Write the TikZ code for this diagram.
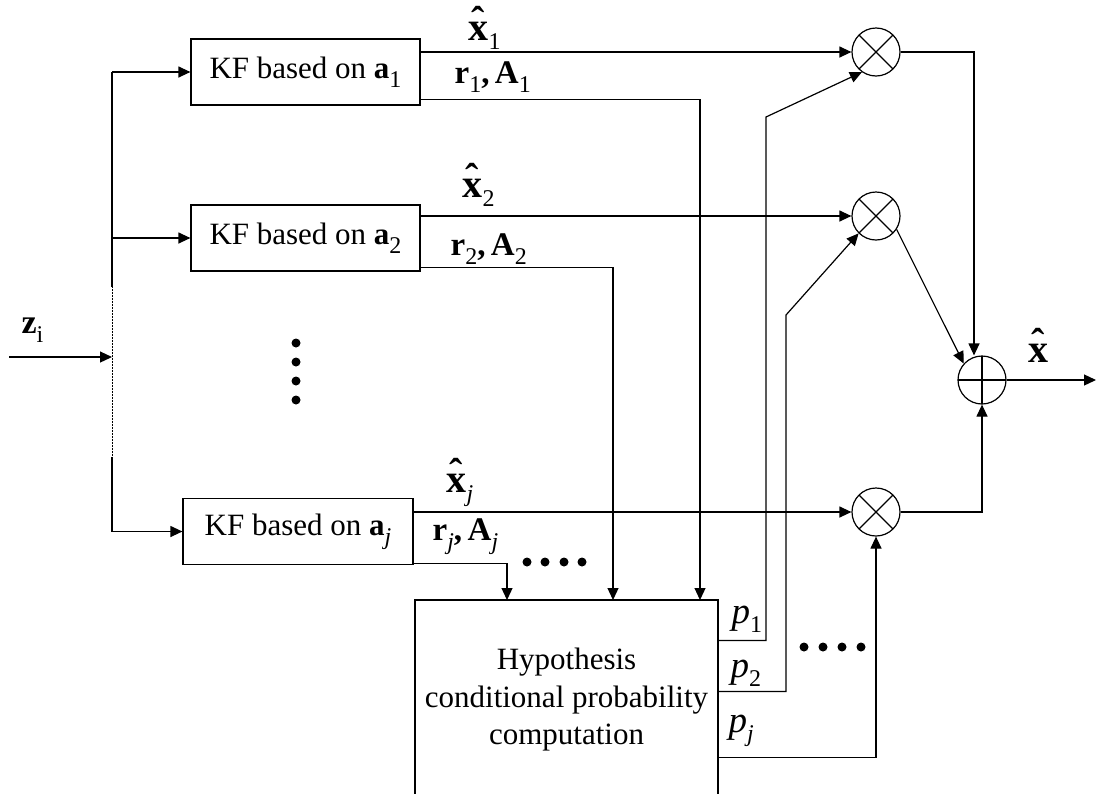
\documentclass[tikz,border=0pt]{standalone}
\usepackage{fontspec}
\setmainfont{Liberation Serif}
\usetikzlibrary{arrows.meta}

\newcommand{\idx}[1]{\raisebox{-9pt}{\fontsize{24}{24}\selectfont #1}}
\newcommand{\hatx}{\textbf{\ooalign{x\cr\hidewidth\raisebox{6pt}{ˆ}\hidewidth\cr}}}
\newcommand{\est}[1]{{\fontsize{40}{40}\selectfont\hatx}\idx{#1}}
\newcommand{\ra}[1]{{\fontsize{33}{33}\selectfont\textbf{r}}\idx{#1}{\fontsize{33}{33}\selectfont\textbf{,\,A}}\idx{#1}}
\newcommand{\prob}[1]{{\fontsize{37}{37}\selectfont\textit{p}}\idx{#1}}

\begin{document}
\begin{tikzpicture}
  [x=1pt,y=-1pt,line width=1.2pt,>={Triangle[length=12pt,width=11pt]},
   every node/.style={inner sep=0pt,font=\fontsize{31}{37.5}\selectfont},
   kf/.style={draw,rectangle,minimum height=66pt},
   mult/.style={draw,circle,minimum size=48pt,path picture={
     \draw (path picture bounding box.north west) -- (path picture bounding box.south east)
           (path picture bounding box.north east) -- (path picture bounding box.south west);}},
   summ/.style={draw,circle,minimum size=48pt,path picture={
     \draw (path picture bounding box.north) -- (path picture bounding box.south)
           (path picture bounding box.west) -- (path picture bounding box.east);}},
   dot/.style={circle,fill,minimum size=9pt}]
  \useasboundingbox (0,0) rectangle (1097,793);
  \clip (0,0) rectangle (1097,793);

  \node[kf,minimum width=229pt] (kf1) at (305.5,72)  {KF based on \textbf{a}\idx{1}};
  \node[kf,minimum width=229pt] (kf2) at (305.5,238) {KF based on \textbf{a}\idx{2}};
  \node[kf,minimum width=230pt] (kfj) at (298,531.5) {KF based on \textbf{a}\idx{\textit{j}}};
  \node[draw,minimum width=303pt,minimum height=200pt,align=center] (hyp) at (566.5,700)
    {Hypothesis\\conditional probability\\computation};

  \node[mult] (m1)  at (876,52)  {};
  \node[mult] (m2)  at (876,216) {};
  \node[mult] (mj)  at (876,512) {};
  \node[summ] (sum) at (982,380) {};

  \coordinate (zin)  at (9,357);
  \coordinate (bus)  at (112,357);
  \coordinate (gapa) at (112,287);
  \coordinate (gapb) at (112,457);
  \coordinate (in1)  at (700,600);
  \coordinate (in2)  at (613,600);
  \coordinate (inj)  at (507,600);
  \coordinate (b1)   at (766,117);
  \coordinate (b2)   at (786,315);
  \coordinate (xout) at (1096,380);

  \node[anchor=base west] (lz)   at (21,333)  {\fontsize{34}{34}\selectfont\textbf{z}\idx{i}};
  \node[anchor=base west] (lx1)  at (468,40)  {\est{1}};
  \node[anchor=base west] (lra1) at (454,83)  {\ra{1}};
  \node[anchor=base west] (lx2)  at (462,197) {\est{2}};
  \node[anchor=base west] (lra2) at (450,255) {\ra{2}};
  \node[anchor=base west] (lxj)  at (446,492) {\est{\textit{j}}};
  \node[anchor=base west] (lraj) at (432,540) {\ra{\textit{j}}};
  \node[anchor=base west] (lp1)  at (731,623) {\prob{1}};
  \node[anchor=base west] (lp2)  at (730,677) {\prob{2}};
  \node[anchor=base west] (lpj)  at (728,732) {\prob{\textit{j}}};
  \node[anchor=base west] (lx)   at (1028,362) {\fontsize{40}{40}\selectfont\hatx};

  \foreach \y in {343,362,381,400}
    \node[dot] (v\y) at (296,\y) {};
  \foreach \x in {527,545,564,582}
    \node[dot] (h\x) at (\x,562) {};
  \foreach \x in {804,823,842,861}
    \node[dot] (q\x) at (\x,647) {};

  \draw[->] (zin) -- (bus);
  \draw (bus |- kf1.west) -- (gapa);
  \draw[densely dotted,line width=0.5pt] (gapa) -- (gapb);
  \draw (gapb) -- (bus |- kfj.west);
  \foreach \k in {kf1,kf2,kfj}
    \draw[->] (bus |- \k.west) -- (\k.west);

  \foreach \k/\m in {kf1/m1,kf2/m2,kfj/mj}
    \draw[->] (\k.east |- \m) -- (\m);
  \draw[->] ([yshift=6pt]kf1.south east) -| (in1);
  \draw[->] ([yshift=4pt]kf2.south east) -| (in2);
  \draw[->] ([yshift=2pt]kfj.south east) -| (inj);

  \draw[->] ([yshift=-41pt]hyp.north east) -| (b1) -- (m1.235);
  \draw[->] ([yshift=-92pt]hyp.north east) -| (b2) -- (m2.225);
  \draw[->] ([yshift=-158pt]hyp.north east) -| (mj);

  \draw[->] (m1) -| ([xshift=-8pt]sum.north);
  \draw[->] (m2.327) -- (sum.138);
  \draw[->] (mj) -| (sum);
  \draw[->] (sum) -- (xout);

\end{tikzpicture}
\end{document}
